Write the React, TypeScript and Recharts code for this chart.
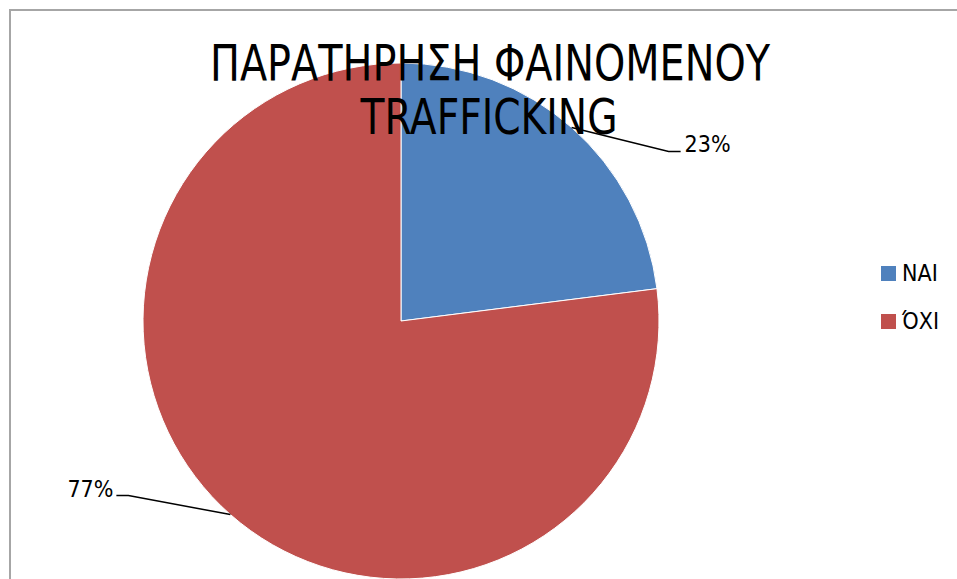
import { PieChart, Pie, Cell, Legend } from 'recharts'

const CATEGORIES = ['NAI', 'ΌΧΙ']
const VALUES = [23, 77]
const COLORS = ['#4F81BD', '#C0504D']
const TITLE_LINES = ['ΠΑΡΑΤΗΡΗΣΗ ΦΑΙΝΟΜΕΝΟΥ', 'TRAFFICKING']

const data = CATEGORIES.map((name, i) => ({ name, value: VALUES[i] }))

const FONT = '"Liberation Sans Narrow", "DejaVu Sans Condensed", "Noto Sans", sans-serif'
const RAD = Math.PI / 180

function renderLabel(props: any) {
  const { cx, cy, midAngle, outerRadius, percent } = props
  const x0 = cx + outerRadius * Math.cos(-midAngle * RAD)
  const y0 = cy + outerRadius * Math.sin(-midAngle * RAD)
  const right = x0 > cx
  const x1 = x0 + (right ? 97 : -102)
  const y1 = y0 + (y0 < cy ? 24 : -19)
  const x2 = x1 + (right ? 12 : -12)
  return (
    <g>
      <polyline points={`${x0},${y0} ${x1},${y1} ${x2},${y1}`} fill="none" stroke="#000" strokeWidth={1.5} />
      <text
        x={x2 + (right ? 4 : -3)}
        y={y1 + 1}
        textAnchor={right ? 'start' : 'end'}
        fontFamily={FONT}
        fontSize={23}
        fill="#000"
      >
        {`${Math.round(percent * 100)}%`}
      </text>
    </g>
  )
}

function renderLegend(props: any) {
  const { payload } = props
  return (
    <div style={{ fontFamily: FONT }}>
      {payload.map((p: any, i: number) => (
        <div key={i} style={{ display: 'flex', alignItems: 'center', height: 48 }}>
          <span style={{ width: 15, height: 15, background: p.color, display: 'inline-block', marginRight: 6 }} />
          <span style={{ fontSize: 23, color: '#000' }}>{p.value}</span>
        </div>
      ))}
    </div>
  )
}

export default function App() {
  return (
    <div style={{ position: 'absolute', left: 0, top: 0, width: 957, height: 579, background: '#fff', overflow: 'hidden' }}>
      <div style={{ position: 'absolute', left: 9, top: 9, width: 1000, height: 1000, border: '2px solid #a6a6a6', boxSizing: 'border-box' }} />
      <div style={{ position: 'absolute', left: 0, top: 0 }}>
        <PieChart width={957} height={579} margin={{ top: 0, right: 0, bottom: 0, left: 0 }}>
          <Pie
            data={data}
            dataKey="value"
            nameKey="name"
            cx={401}
            cy={321}
            outerRadius={258}
            startAngle={90}
            endAngle={-270}
            stroke="#ffffff"
            strokeWidth={1}
            label={renderLabel}
            labelLine={false}
            isAnimationActive={false}
          >
            {data.map((_, i) => (
              <Cell key={i} fill={COLORS[i % COLORS.length]} />
            ))}
          </Pie>
          <Legend
            layout="vertical"
            content={renderLegend}
            wrapperStyle={{ left: 881, top: 249, width: 70 }}
          />
        </PieChart>
      </div>
      <svg width={957} height={579} style={{ position: 'absolute', left: 0, top: 0, pointerEvents: 'none' }}>
        <text x={490} y={80} textAnchor="middle" fontFamily={FONT} fontSize={50} fill="#000" textLength={560} lengthAdjust="spacingAndGlyphs">
          {TITLE_LINES[0]}
        </text>
        <text x={489} y={134} textAnchor="middle" fontFamily={FONT} fontSize={50} fill="#000" textLength={257} lengthAdjust="spacingAndGlyphs">
          {TITLE_LINES[1]}
        </text>
      </svg>
    </div>
  )
}
